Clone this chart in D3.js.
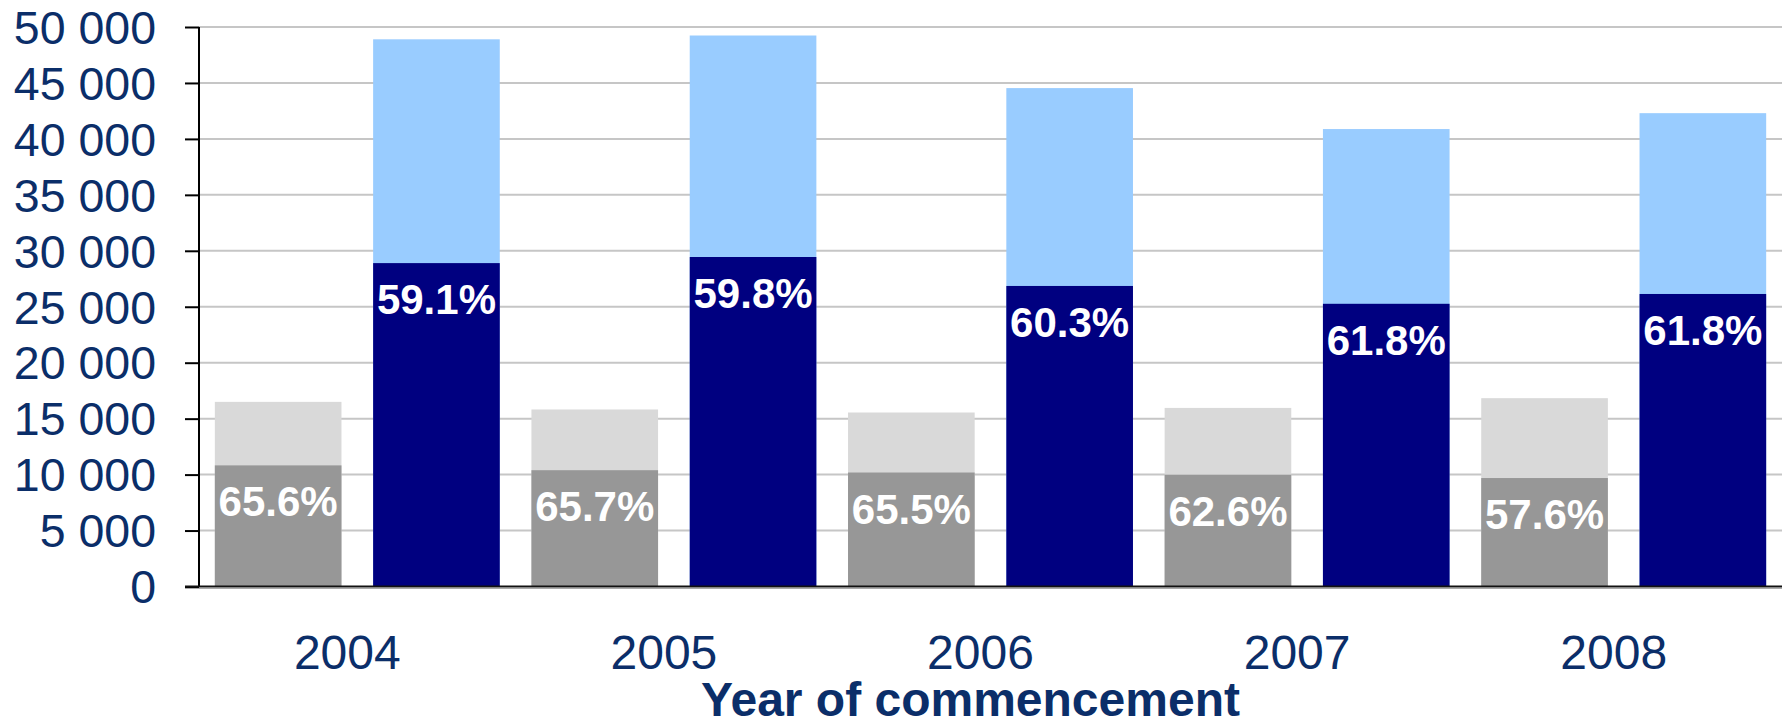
<!DOCTYPE html>
<html>
<head>
<meta charset="utf-8">
<script src="https://cdn.jsdelivr.net/npm/d3@7"></script>
<style>
  html, body { margin: 0; padding: 0; background: #ffffff; }
  svg { display: block; }
  text { font-family: "Liberation Sans", Arial, sans-serif; }
</style>
</head>
<body>
<svg id="chart" width="1786" height="726"></svg>
<script>
// Commencements per year: two stacked groups, each with a total and the share (%) shown in the darker segment
const years = ["2004", "2005", "2006", "2007", "2008"];
const greyTotals = [16500, 15820, 15550, 15960, 16830];
const greyShare = [65.6, 65.7, 65.5, 62.6, 57.6];
const blueTotals = [48900, 49240, 44540, 40880, 42300];
const blueShare = [59.1, 59.8, 60.3, 61.8, 61.8];
const yTicks = [0, 5000, 10000, 15000, 20000, 25000, 30000, 35000, 40000, 45000, 50000];
const xTitle = "Year of commencement";

const W = 1786, H = 726;
const margin = { top: 27, right: 4, bottom: 139.5, left: 199 };
const innerW = W - margin.left - margin.right;
const innerH = H - margin.top - margin.bottom;

const navyText = "#0b2e69";
const colors = {
  grey: { total: "#d9d9d9", part: "#979797" },
  blue: { total: "#99ccff", part: "#000080" }
};

const svg = d3.select("#chart");
const g = svg.append("g").attr("transform", `translate(${margin.left},${margin.top})`);

const x0 = d3.scaleBand().domain(years).range([0, innerW]).padding(0);
const x1 = d3.scaleBand().domain(["grey", "blue"]).range([0, x0.bandwidth()])
  .paddingInner(0.2).paddingOuter(0.1);
const y = d3.scaleLinear().domain([0, 50000]).range([innerH, 0]);

const locale = d3.formatLocale({ decimal: ".", thousands: " ", grouping: [3], currency: ["", ""] });
const fmt = locale.format(",");

// horizontal gridlines
g.append("g").selectAll("line").data(yTicks.filter(d => d > 0)).join("line")
  .attr("x1", 0).attr("x2", innerW)
  .attr("y1", d => y(d)).attr("y2", d => y(d))
  .attr("stroke", "#c6c6c6").attr("stroke-width", 2);

// rows for the bars
const rows = years.map((yr, i) => ({
  year: yr,
  series: [
    { key: "grey", total: greyTotals[i], share: greyShare[i] },
    { key: "blue", total: blueTotals[i], share: blueShare[i] }
  ]
}));

const groups = g.append("g").selectAll("g").data(rows).join("g")
  .attr("transform", d => `translate(${x0(d.year)},0)`);

const bars = groups.selectAll("g").data(d => d.series).join("g");

bars.append("rect")
  .attr("x", d => x1(d.key)).attr("width", x1.bandwidth())
  .attr("y", d => y(d.total)).attr("height", d => innerH - y(d.total))
  .attr("fill", d => colors[d.key].total);

bars.append("rect")
  .attr("x", d => x1(d.key)).attr("width", x1.bandwidth())
  .attr("y", d => y(d.total * d.share / 100)).attr("height", d => innerH - y(d.total * d.share / 100))
  .attr("fill", d => colors[d.key].part);

bars.append("text")
  .attr("x", d => x1(d.key) + x1.bandwidth() / 2)
  .attr("y", d => y(d.total * d.share / 100) + 51)
  .attr("text-anchor", "middle")
  .attr("fill", "#ffffff")
  .attr("font-weight", "bold")
  .attr("font-size", 42)
  .text(d => d.share.toFixed(1) + "%");

// y axis
const yAxis = g.append("g")
  .call(d3.axisLeft(y).tickValues(yTicks).tickFormat(fmt).tickSize(14).tickPadding(29));
yAxis.select(".domain").attr("stroke", "#000").attr("stroke-width", 2).attr("d", `M0,0V${innerH}`);
yAxis.selectAll(".tick line").attr("stroke", "#000").attr("stroke-width", 2);
yAxis.selectAll(".tick text")
  .attr("fill", navyText).attr("font-size", 46.5).attr("dy", "0.35em")
  .style("font-family", "'Liberation Sans', Arial, sans-serif");

// x axis baseline
g.append("line")
  .attr("x1", -14).attr("x2", innerW)
  .attr("y1", innerH).attr("y2", innerH)
  .attr("stroke", "#111").attr("stroke-width", 2);
g.append("line")
  .attr("x1", -14).attr("x2", innerW)
  .attr("y1", innerH + 2).attr("y2", innerH + 2)
  .attr("stroke", "#aaaaaa").attr("stroke-width", 1);

// year labels
g.append("g").selectAll("text").data(years).join("text")
  .attr("x", d => x0(d) + x0.bandwidth() / 2 - 10)
  .attr("y", innerH + 82.5)
  .attr("text-anchor", "middle")
  .attr("fill", navyText)
  .attr("font-size", 48)
  .text(d => d);

// axis title
g.append("text")
  .attr("x", innerW / 2 - 20)
  .attr("y", innerH + 129)
  .attr("text-anchor", "middle")
  .attr("fill", navyText)
  .attr("font-weight", "bold")
  .attr("font-size", 48)
  .text(xTitle);
</script>
</body>
</html>
